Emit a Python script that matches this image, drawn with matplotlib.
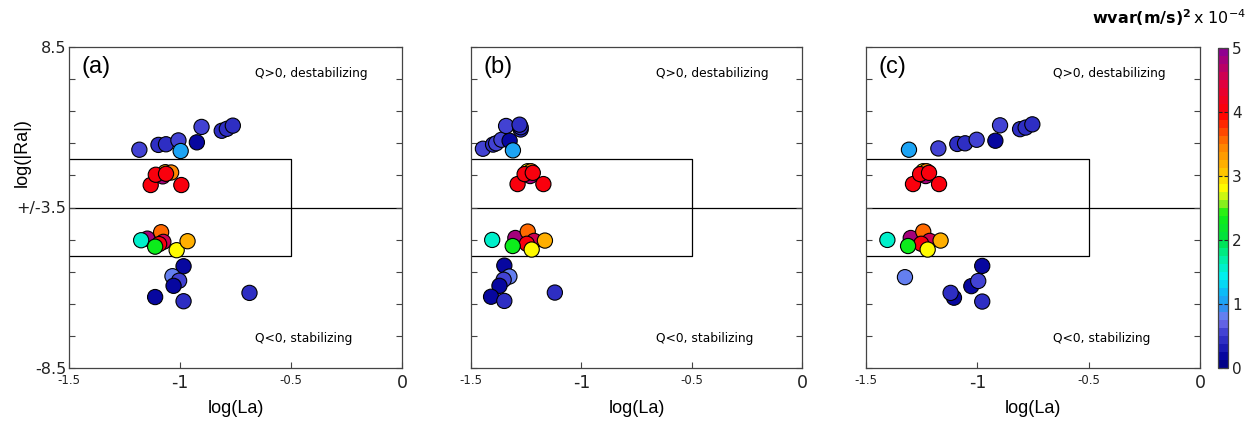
import numpy as np
import matplotlib
matplotlib.use("Agg")
import matplotlib.pyplot as plt
from matplotlib.colors import LinearSegmentedColormap, Normalize
from matplotlib.cm import ScalarMappable

# ---------------- data ----------------
# log(La), signed log(|Ra|) (sign = sign of Q), wvar (x1e-4 (m/s)^2)
la_a = [-1.183, -1.097, -1.063, -1.007, -0.997, -0.924, -0.903, -0.812, -0.789, -0.762,
        -1.132, -1.078, -1.066, -1.040, -1.109, -1.063, -0.994,
        -1.147, -1.175, -1.085, -1.075, -1.094, -1.112, -1.015, -0.966,
        -0.984, -1.034, -1.004, -1.029, -1.112, -0.984, -0.687]
ra_a = [5.30, 5.45, 5.47, 5.59, 5.26, 5.53, 6.01, 5.89, 5.95, 6.05,
        4.20, 4.47, 4.60, 4.59, 4.52, 4.55, 4.20,
        -4.47, -4.52, -4.27, -4.57, -4.64, -4.72, -4.83, -4.55,
        -5.33, -5.64, -5.78, -5.94, -6.29, -6.42, -6.16]
w_a = [0.6, 0.4, 0.4, 0.6, 1.0, 0.15, 0.6, 0.4, 0.4, 0.4,
       4.0, 4.8, 3.2, 3.4, 4.0, 4.0, 4.0,
       4.8, 1.6, 3.5, 4.5, 4.0, 2.3, 2.8, 3.2,
       0.15, 0.75, 0.6, 0.15, 0.15, 0.4, 0.4]

la_b = [-1.446, -1.400, -1.386, -1.362, -1.325, -1.310, -1.341, -1.275, -1.275, -1.280,
        -1.289, -1.232, -1.243, -1.228, -1.257, -1.220, -1.172,
        -1.299, -1.404, -1.243, -1.214, -1.247, -1.311, -1.225, -1.165,
        -1.349, -1.326, -1.352, -1.371, -1.409, -1.349, -1.120]
ra_b = [5.33, 5.46, 5.50, 5.61, 5.58, 5.28, 6.04, 5.93, 6.00, 6.08,
        4.23, 4.48, 4.63, 4.63, 4.54, 4.58, 4.23,
        -4.45, -4.51, -4.25, -4.54, -4.63, -4.70, -4.81, -4.53,
        -5.31, -5.65, -5.75, -5.94, -6.28, -6.41, -6.15]
w_b = [0.6, 0.4, 0.6, 0.6, 0.15, 1.0, 0.6, 0.4, 0.4, 0.4,
       4.0, 4.8, 2.8, 3.4, 4.0, 4.0, 4.0,
       4.8, 1.6, 3.5, 4.5, 4.0, 2.3, 2.8, 3.2,
       0.15, 0.75, 0.6, 0.15, 0.15, 0.4, 0.4]

la_c = [-1.307, -1.175, -1.090, -1.055, -1.003, -0.919, -0.898, -0.808, -0.783, -0.753,
        -1.289, -1.232, -1.243, -1.228, -1.257, -1.217, -1.172,
        -1.299, -1.404, -1.243, -1.214, -1.252, -1.311, -1.223, -1.165,
        -1.325, -0.978, -1.027, -0.996, -1.105, -1.120, -0.978]
ra_c = [5.30, 5.34, 5.48, 5.50, 5.61, 5.58, 6.06, 5.94, 5.99, 6.09,
        4.23, 4.48, 4.63, 4.63, 4.54, 4.58, 4.23,
        -4.45, -4.51, -4.25, -4.54, -4.63, -4.70, -4.81, -4.53,
        -5.67, -5.32, -5.95, -5.79, -6.31, -6.16, -6.43]
w_c = [1.0, 0.6, 0.4, 0.4, 0.6, 0.15, 0.6, 0.4, 0.4, 0.4,
       4.0, 4.8, 2.8, 3.4, 4.0, 4.0, 4.0,
       4.8, 1.6, 3.5, 4.5, 4.0, 2.3, 2.8, 3.2,
       0.75, 0.15, 0.15, 0.6, 0.15, 0.4, 0.4]

panels = [("(a)", la_a, ra_a, w_a), ("(b)", la_b, ra_b, w_b), ("(c)", la_c, ra_c, w_c)]
cbar_ticks = [0, 1, 2, 3, 4, 5]

# ---------------- colormap ----------------
anchors = [
    (0.00, "#000088"), (0.08, "#000098"), (0.30, "#2020b8"), (0.55, "#4848d8"),
    (0.72, "#7878f0"), (0.90, "#3090f0"), (1.10, "#10b0f8"), (1.40, "#00f0f0"),
    (1.70, "#00f0a0"), (2.00, "#00e040"), (2.40, "#10f010"), (2.60, "#a0f020"),
    (2.80, "#ffff00"), (3.10, "#ffc000"), (3.50, "#ff8000"), (4.00, "#ff0000"),
    (4.50, "#e00040"), (5.00, "#900090")]
cmap = LinearSegmentedColormap.from_list(
    "wv", [(v / 5.0, c) for v, c in anchors], N=40)
norm = Normalize(0, 5)

W, H = 1252, 425
fig = plt.figure(figsize=(W / 100, H / 100), dpi=100)
fig.patch.set_facecolor("white")

lefts = [69, 471, 866]
rights = [402, 802, 1200]
top, bot = 47, 368

def tr(v):
    v = np.asarray(v, dtype=float)
    return np.sign(v) * (np.abs(v) - 3.5)

for i, (lab, la, ra, w) in enumerate(panels):
    ax = fig.add_axes([lefts[i] / W, 1 - bot / H, (rights[i] - lefts[i]) / W, (bot - top) / H])
    ax.set_xlim(-1.5, 0)
    ax.set_ylim(-5, 5)
    # reference lines / box
    ax.plot([-1.5, 0], [0, 0], color="black", lw=0.9, zorder=1)
    ax.plot([-1.5, -0.5, -0.5, -1.5], [1.5, 1.5, -1.5, -1.5], color="black", lw=0.9, zorder=1)
    ax.scatter(la, tr(ra), c=w, cmap=cmap, norm=norm, s=120,
               edgecolors="black", linewidths=0.8, zorder=3, clip_on=False)
    for sp in ax.spines.values():
        sp.set_color("#444444")
        sp.set_linewidth(0.9)
    ax.set_yticks(np.arange(-5, 6, 1))
    ax.tick_params(axis="y", direction="in", length=4, width=0.8, left=True, right=True,
                   colors="#444444", pad=2)
    ax.set_xticks([-1.5, -1, -0.5, 0])
    ax.tick_params(axis="x", direction="in", length=4, width=0.8, colors="#444444", pad=4)
    if i == 0:
        ylabels = [""] * 11
        ylabels[0], ylabels[5], ylabels[10] = "-8.5", "+/-3.5", "8.5"
        ax.set_yticklabels(ylabels, fontsize=11.5, color="#222222")
        ax.set_ylabel("log(|Ra|)", family="Liberation Sans", fontsize=13, labelpad=4)
        ax.yaxis.set_label_coords(-0.115, 0.67)
    else:
        ax.set_yticklabels([])
    xl = ax.set_xticklabels(["-1.5", "-1", "-0.5", "0"], color="#222222")
    for t, fs in zip(xl, [8.5, 12.5, 8.5, 12.5]):
        t.set_fontsize(fs)
    ax.set_xlabel("log(La)", family="Liberation Sans", fontsize=13, labelpad=6)
    ax.text(-1.445, 4.38, lab, fontsize=17, family="Liberation Sans", ha="left", va="center")
    ax.text(-0.66, 4.16, "Q>0, destabilizing", fontsize=8.8, ha="left", va="center")
    ax.text(-0.66, -4.09, "Q<0, stabilizing", fontsize=8.8, ha="left", va="center")

# colorbar
cax = fig.add_axes([1218 / W, 1 - 368 / H, 10 / W, 320 / H])
cb = fig.colorbar(ScalarMappable(norm=norm, cmap=cmap), cax=cax, ticks=cbar_ticks)
cb.outline.set_edgecolor("#444444")
cb.outline.set_linewidth(0.9)
cax.tick_params(direction="in", length=3, width=0.8, labelsize=11, colors="#222222", pad=3,
                left=True, right=True)
fig.text(1092 / W, 1 - 18 / H, r"$\mathbf{wvar(m/s)^2}$", fontsize=11.5, ha="left", va="center")
fig.text(1193 / W, 1 - 18 / H, r"x 10$^{-4}$", fontsize=11.5, ha="left", va="center")

fig.savefig("out.png", dpi=100)
